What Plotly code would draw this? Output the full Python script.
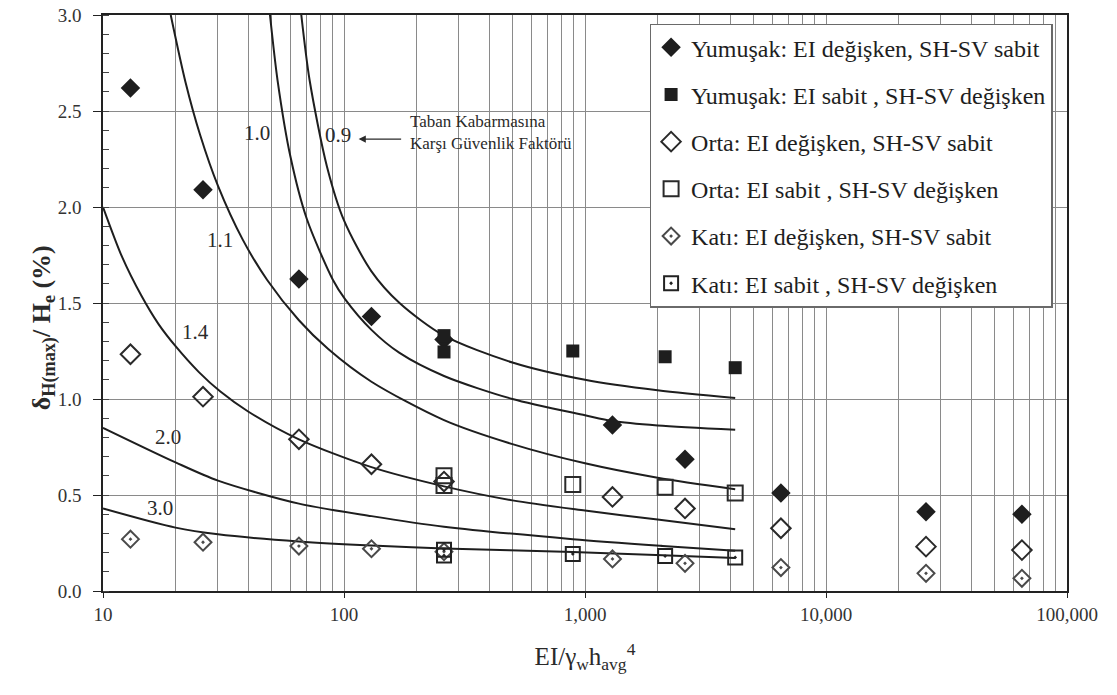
import numpy as np
import plotly.graph_objects as go

# Measured points: EI varied, SH-SV fixed
x_ei_var = [13, 26, 65, 130, 260, 1300, 2600, 6500, 26000, 65000]
y_yumusak_ei_var = [2.62, 2.09, 1.625, 1.43, 1.31, 0.865, 0.686, 0.51, 0.413, 0.40]
y_orta_ei_var = [1.233, 1.012, 0.79, 0.66, 0.57, 0.49, 0.43, 0.327, 0.231, 0.213]
y_kati_ei_var = [0.27, 0.254, 0.234, 0.22, 0.205, 0.167, 0.144, 0.122, 0.092, 0.066]

# Measured points: EI fixed, SH-SV varied
x_ei_fix = [260, 260, 890, 2150, 4200]
y_yumusak_ei_fix = [1.33, 1.245, 1.25, 1.22, 1.163]
y_orta_ei_fix = [0.60, 0.55, 0.555, 0.54, 0.51]
y_kati_ei_fix = [0.215, 0.185, 0.193, 0.182, 0.175]

# Safety factor curves against basal heave
fs_labels = ["0.9", "1.0", "1.1", "1.4", "2.0", "3.0"]
fs_09_x = [66.5, 72, 85, 100, 130, 170, 260, 500, 1000, 2000, 4200]
fs_09_y = [3.0, 2.66, 2.21, 1.93, 1.665, 1.50, 1.33, 1.19, 1.10, 1.045, 1.005]
fs_10_x = [49.3, 53, 60, 70, 90, 101, 130, 170, 260, 500, 1000, 1300, 2000, 4200]
fs_10_y = [3.0, 2.66, 2.26, 1.94, 1.62, 1.52, 1.36, 1.24, 1.12, 1.0, 0.915, 0.885, 0.862, 0.84]
fs_11_x = [19.1, 22, 25.3, 30, 38, 48, 65, 86, 130, 260, 500, 1000, 2000, 4200]
fs_11_y = [3.0, 2.65, 2.375, 2.11, 1.83, 1.62, 1.41, 1.26, 1.09, 0.89, 0.765, 0.665, 0.59, 0.53]
fs_14_x = [10, 12, 14.4, 17, 20, 25, 30.6, 40, 65, 130, 260, 500, 1000, 2000, 4200]
fs_14_y = [2.0, 1.74, 1.54, 1.39, 1.275, 1.14, 1.04, 0.935, 0.79, 0.645, 0.545, 0.472, 0.419, 0.372, 0.322]
fs_20_x = [10, 20, 30, 65, 130, 260, 890, 2100, 4200]
fs_20_y = [0.85, 0.67, 0.575, 0.455, 0.39, 0.335, 0.27, 0.235, 0.21]
fs_30_x = [10, 20, 30, 65, 130, 260, 890, 2100, 4200]
fs_30_y = [0.43, 0.33, 0.295, 0.258, 0.237, 0.222, 0.203, 0.186, 0.172]

# Label anchor points for the curves (data units)
fs_label_x = [94.4, 43.5, 30.6, 24.1, 18.6, 17.2]
fs_label_y = [2.375, 2.385, 1.83, 1.35, 0.80, 0.43]

SERIF = "Liberation Serif"
INK = "#1e1e1e"
TXT = "#2a2a2a"
GRID = "#8a8a8a"

fig = go.Figure()

curves = [(fs_09_x, fs_09_y), (fs_10_x, fs_10_y), (fs_11_x, fs_11_y),
          (fs_14_x, fs_14_y), (fs_20_x, fs_20_y), (fs_30_x, fs_30_y)]
for cx, cy in curves:
    fig.add_trace(go.Scatter(
        x=cx, y=cy, mode="lines", showlegend=False, hoverinfo="skip",
        line=dict(color=INK, width=2, shape="spline", smoothing=0.8),
    ))

series = [
    ("Yumuşak: EI değişken, SH-SV sabit", x_ei_var, y_yumusak_ei_var,
     dict(symbol="diamond", size=15, color=INK, line=dict(width=0))),
    ("Yumuşak: EI sabit , SH-SV değişken", x_ei_fix, y_yumusak_ei_fix,
     dict(symbol="square", size=13, color=INK, line=dict(width=0))),
    ("Orta: EI değişken, SH-SV sabit", x_ei_var, y_orta_ei_var,
     dict(symbol="diamond-open", size=15, color="#2a2a2a", line=dict(width=2))),
    ("Orta: EI sabit , SH-SV değişken", x_ei_fix, y_orta_ei_fix,
     dict(symbol="square-open", size=15, color="#2a2a2a", line=dict(width=2))),
    ("Katı: EI değişken, SH-SV sabit", x_ei_var, y_kati_ei_var,
     dict(symbol="diamond-open-dot", size=13, color="#4a4a4a", line=dict(width=2))),
    ("Katı: EI sabit , SH-SV değişken", x_ei_fix, y_kati_ei_fix,
     dict(symbol="square-open-dot", size=14, color="#222222", line=dict(width=2))),
]
for i, (name, sx, sy, mk) in enumerate(series):
    fig.add_trace(go.Scatter(
        x=sx, y=sy, mode="markers", name=name, marker=mk,
        legendgroup=f"g{i}",
    ))

# Curve labels
for lbl, lx, ly in zip(fs_labels, fs_label_x, fs_label_y):
    fig.add_annotation(x=np.log10(lx), y=ly, text=lbl, showarrow=False,
                       font=dict(family=SERIF, size=21, color=TXT))

# White patch behind the note so grid lines stop around it
fig.add_shape(type="rect", xref="paper", yref="paper",
              x0=0.305, x1=0.547, y0=0.708, y1=0.861,
              fillcolor="white", line=dict(width=0), layer="between")

fig.add_annotation(x=np.log10(184.5), y=2.39, xanchor="left", yanchor="middle",
                   text="Taban Kabarmasına<br>Karşı Güvenlik Faktörü",
                   showarrow=False, align="left",
                   font=dict(family=SERIF, size=17, color=TXT))
fig.add_annotation(x=np.log10(115), y=2.354, ax=44, ay=0, text="",
                   showarrow=True, arrowhead=2, arrowsize=1.2, arrowwidth=1.2,
                   arrowcolor=TXT)

# Y-axis title
fig.add_annotation(xref="paper", yref="paper", x=-0.081, y=0.457,
                   text="<b>δ<sub>H(max)</sub>/ H<sub>e</sub> (%)</b>",
                   textangle=-90, showarrow=False,
                   font=dict(family=SERIF, size=26, color=TXT))

fig.update_layout(
    width=1117, height=695,
    margin=dict(l=103, r=50, t=15, b=104, autoexpand=False),
    paper_bgcolor="white", plot_bgcolor="white",
    font=dict(family=SERIF, color=TXT),
    showlegend=True,
    legend=dict(
        x=0.567, y=0.985, xanchor="left", yanchor="top",
        bgcolor="white", bordercolor="#6a6a6a", borderwidth=1.5,
        font=dict(family=SERIF, size=24, color="#1e1e1e"),
        traceorder="grouped", tracegroupgap=13,
    ),
    xaxis=dict(
        type="log", range=[1, 5], automargin=False,
        tickvals=[10, 100, 1000, 10000, 100000],
        ticktext=["10", "100", "1,000", "10,000", "100,000"],
        ticks="outside", ticklen=5, tickcolor="#222",
        showline=True, linecolor="#222", linewidth=1.5, mirror=True,
        showgrid=True, gridcolor=GRID, gridwidth=1,
        minor=dict(dtick="D1", showgrid=True, gridcolor=GRID, gridwidth=1, ticks=""),
        tickfont=dict(family=SERIF, size=19, color="#333"),
        title=dict(text="EI/γ<sub>w</sub>h<sub>avg</sub><sup>4</sup>",
                   font=dict(family=SERIF, size=25, color=TXT), standoff=24),
        zeroline=False,
    ),
    yaxis=dict(
        range=[0, 3], dtick=0.5, tickformat=".1f", automargin=False,
        ticks="outside", ticklen=8, tickcolor="#222",
        showline=True, linecolor="#222", linewidth=1.5, mirror=True,
        showgrid=True, gridcolor=GRID, gridwidth=1,
        minor=dict(dtick=0.1, ticks="inside", ticklen=6, tickcolor="#444", showgrid=False),
        tickfont=dict(family=SERIF, size=19, color="#333"),
        ticklabelstandoff=8,
        zeroline=False,
    ),
)

fig.write_html("out.html")
